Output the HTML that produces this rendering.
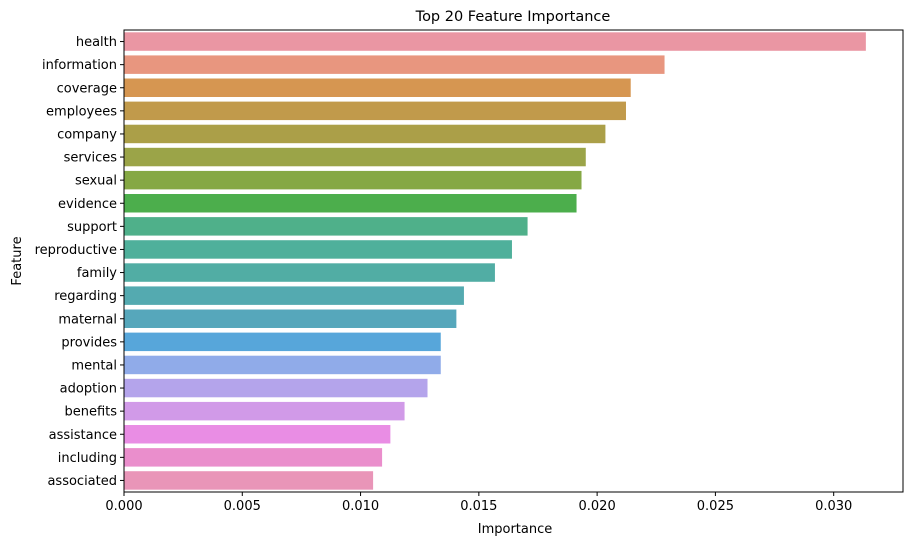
<!DOCTYPE html>
<html><head><meta charset="utf-8"><style>
body{margin:0;background:#fff;font-family:"DejaVu Sans","Liberation Sans",sans-serif;}
svg text{font-family:"DejaVu Sans","Liberation Sans",sans-serif;fill:#000;}
</style></head><body>
<svg id="chart" width="912" height="545" xmlns="http://www.w3.org/2000/svg">
<text x="513" y="21" font-size="14.5" text-anchor="middle">Top 20 Feature Importance</text>
<g id="bars"></g>
<g id="yaxis"></g>
<g id="xaxis"></g>
<rect x="124" y="30" width="779" height="462" fill="none" stroke="#000" stroke-width="1"/>
<text x="515" y="533" font-size="13" text-anchor="middle">Importance</text>
<text x="21" y="261" font-size="13" text-anchor="middle" transform="rotate(-90 21 261)">Feature</text>
</svg>
<script>
const features=["health","information","coverage","employees","company","services","sexual","evidence","support","reproductive","family","regarding","maternal","provides","mental","adoption","benefits","assistance","including","associated"];
const importance=[0.03136,0.02285,0.02142,0.02122,0.02035,0.01952,0.01934,0.01913,0.01706,0.01640,0.01568,0.01437,0.01405,0.01339,0.01339,0.01283,0.01186,0.01126,0.01091,0.01053];
const colors=["#ea96a3","#e8967f","#d69651","#c19a4b","#ab9f48","#9ba448","#85a844","#4cae4c","#4fb08a","#4fb09b","#51ada4","#54aab0","#56a7bb","#57a6da","#90abe9","#b4a4eb","#d19ae8","#e98de4","#ea8ecc","#e995b8"];
const xTicks=[0,0.005,0.01,0.015,0.02,0.025,0.03];
const xTickLabels=["0.000","0.005","0.010","0.015","0.020","0.025","0.030"];
const L=124,R=903,T=30,B=492,XMAX=0.03293;
const NS="http://www.w3.org/2000/svg";
function xs(v){return L+v/XMAX*(R-L);}
const band=(B-T)/features.length;
function yc(i){return T+band*(i+0.5);}
function mk(tag,attrs,parent){const e=document.createElementNS(NS,tag);for(const k in attrs)e.setAttribute(k,attrs[k]);parent.appendChild(e);return e;}
const gb=document.getElementById('bars'),gy=document.getElementById('yaxis'),gx=document.getElementById('xaxis');
features.forEach((f,i)=>{
  const r=mk('rect',{x:xs(0),y:yc(i)-band*0.4,width:xs(importance[i])-xs(0),height:band*0.8,fill:colors[i]},gb);
  
  
  const t=mk('line',{x1:L-4,x2:L,y1:yc(i),y2:yc(i),stroke:'#000'},gy);
  
  
  const tx=mk('text',{x:L-7,y:yc(i)+4.5,'font-size':'13','text-anchor':'end'},gy);
  tx.textContent=f;
  
  
});
xTicks.forEach((v,i)=>{
  const t=mk('line',{x1:xs(v),x2:xs(v),y1:B,y2:B+4,stroke:'#000'},gx);
  
  
  const tx=mk('text',{x:xs(v),y:B+18,'font-size':'13','text-anchor':'middle'},gx);
  tx.textContent=xTickLabels[i];
  
  
});
</script>
</body></html>
